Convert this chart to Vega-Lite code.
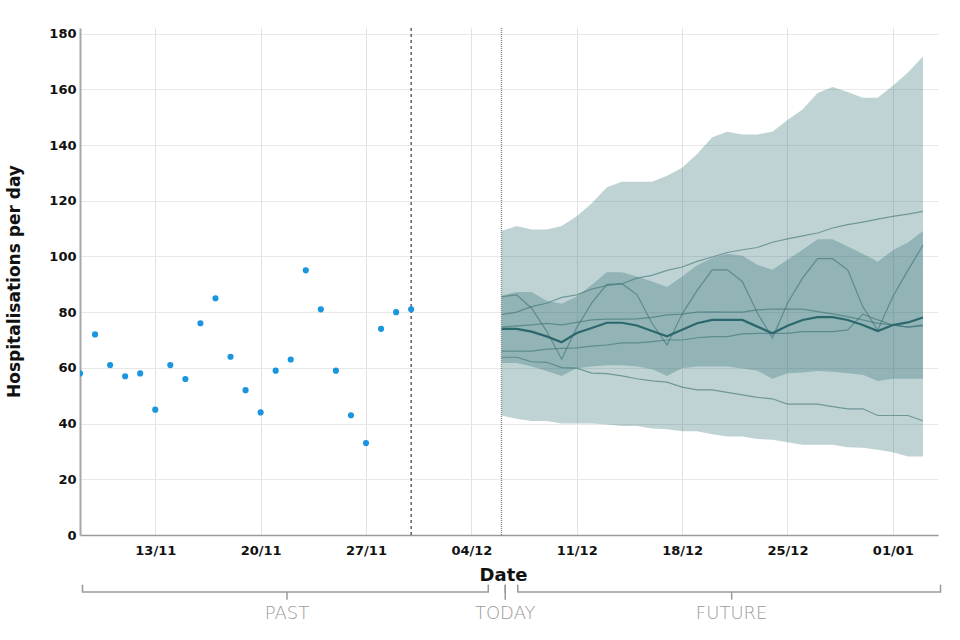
{
  "$schema": "https://vega.github.io/schema/vega-lite/v6.json",
  "autosize": {"type": "none"},
  "width": 858,
  "height": 507,
  "padding": {"left": 80, "top": 28, "right": 22, "bottom": 105},
  "background": "white",
  "config": {"font": "DejaVu Sans", "view": {"stroke": null}},
  "datasets": {
    "obs": [
      {"date": "2020-11-08T00:00:00", "admissions": 58},
      {"date": "2020-11-09T00:00:00", "admissions": 72},
      {"date": "2020-11-10T00:00:00", "admissions": 61},
      {"date": "2020-11-11T00:00:00", "admissions": 57},
      {"date": "2020-11-12T00:00:00", "admissions": 58},
      {"date": "2020-11-13T00:00:00", "admissions": 45},
      {"date": "2020-11-14T00:00:00", "admissions": 61},
      {"date": "2020-11-15T00:00:00", "admissions": 56},
      {"date": "2020-11-16T00:00:00", "admissions": 76},
      {"date": "2020-11-17T00:00:00", "admissions": 85},
      {"date": "2020-11-18T00:00:00", "admissions": 64},
      {"date": "2020-11-19T00:00:00", "admissions": 52},
      {"date": "2020-11-20T00:00:00", "admissions": 44},
      {"date": "2020-11-21T00:00:00", "admissions": 59},
      {"date": "2020-11-22T00:00:00", "admissions": 63},
      {"date": "2020-11-23T00:00:00", "admissions": 95},
      {"date": "2020-11-24T00:00:00", "admissions": 81},
      {"date": "2020-11-25T00:00:00", "admissions": 59},
      {"date": "2020-11-26T00:00:00", "admissions": 43},
      {"date": "2020-11-27T00:00:00", "admissions": 33},
      {"date": "2020-11-28T00:00:00", "admissions": 74},
      {"date": "2020-11-29T00:00:00", "admissions": 80},
      {"date": "2020-11-30T00:00:00", "admissions": 81}
    ],
    "fc": [
      {"date": "2020-12-06T00:00:00", "lo90": 42.9, "hi90": 109.1, "lo50": 61.7, "hi50": 86, "median": 74, "s1": 79.1, "s2": 85.5, "s3": 74.6, "s4": 66, "s5": 63.8},
      {"date": "2020-12-07T00:00:00", "lo90": 41.7, "hi90": 110.9, "lo50": 61.7, "hi50": 87.2, "median": 74, "s1": 80, "s2": 86.2, "s3": 75.1, "s4": 66, "s5": 63.8},
      {"date": "2020-12-08T00:00:00", "lo90": 40.9, "hi90": 109.7, "lo50": 60.5, "hi50": 87.2, "median": 73, "s1": 82, "s2": 81.4, "s3": 75.4, "s4": 66, "s5": 62.2},
      {"date": "2020-12-09T00:00:00", "lo90": 40.9, "hi90": 109.7, "lo50": 58.9, "hi50": 84.1, "median": 71.3, "s1": 83.2, "s2": 73.2, "s3": 76, "s4": 66.7, "s5": 62},
      {"date": "2020-12-10T00:00:00", "lo90": 40, "hi90": 110.9, "lo50": 57.1, "hi50": 83, "median": 69.2, "s1": 85.3, "s2": 63.1, "s3": 75.4, "s4": 67, "s5": 60.1},
      {"date": "2020-12-11T00:00:00", "lo90": 40, "hi90": 114.4, "lo50": 59.9, "hi50": 85.6, "median": 72.5, "s1": 86.2, "s2": 74.5, "s3": 76.3, "s4": 67.2, "s5": 59.9},
      {"date": "2020-12-12T00:00:00", "lo90": 40, "hi90": 119.1, "lo50": 60.5, "hi50": 89.8, "median": 74.3, "s1": 88.3, "s2": 83.3, "s3": 77.2, "s4": 67.8, "s5": 58.1},
      {"date": "2020-12-13T00:00:00", "lo90": 39.7, "hi90": 124.8, "lo50": 60.9, "hi50": 94.3, "median": 76.2, "s1": 89.5, "s2": 90, "s3": 77.5, "s4": 68.2, "s5": 57.9},
      {"date": "2020-12-14T00:00:00", "lo90": 39.1, "hi90": 126.8, "lo50": 60.9, "hi50": 94.3, "median": 76.2, "s1": 90.2, "s2": 90.2, "s3": 77.5, "s4": 69, "s5": 57.1},
      {"date": "2020-12-15T00:00:00", "lo90": 39.1, "hi90": 126.8, "lo50": 60.5, "hi50": 92.8, "median": 75.2, "s1": 92.2, "s2": 86.3, "s3": 77.6, "s4": 69, "s5": 56.1},
      {"date": "2020-12-16T00:00:00", "lo90": 38.2, "hi90": 126.8, "lo50": 59.5, "hi50": 91, "median": 73.2, "s1": 93.2, "s2": 76, "s3": 78.1, "s4": 69.4, "s5": 55.3},
      {"date": "2020-12-17T00:00:00", "lo90": 38, "hi90": 129, "lo50": 57.1, "hi50": 89, "median": 71.3, "s1": 95, "s2": 68.2, "s3": 79, "s4": 70, "s5": 54.9},
      {"date": "2020-12-18T00:00:00", "lo90": 37.2, "hi90": 131.8, "lo50": 59.9, "hi50": 92.8, "median": 73.7, "s1": 96.2, "s2": 79.3, "s3": 79.3, "s4": 70, "s5": 53.1},
      {"date": "2020-12-19T00:00:00", "lo90": 37.2, "hi90": 136.8, "lo50": 60.5, "hi50": 96.8, "median": 76, "s1": 98.2, "s2": 87.8, "s3": 80, "s4": 70.8, "s5": 52.1},
      {"date": "2020-12-20T00:00:00", "lo90": 36.2, "hi90": 142.8, "lo50": 60.5, "hi50": 99.4, "median": 77.2, "s1": 99.8, "s2": 95.2, "s3": 80.1, "s4": 71.2, "s5": 52.1},
      {"date": "2020-12-21T00:00:00", "lo90": 35.4, "hi90": 144.8, "lo50": 60.5, "hi50": 101, "median": 77.2, "s1": 101.4, "s2": 95.2, "s3": 80, "s4": 71.2, "s5": 51.2},
      {"date": "2020-12-22T00:00:00", "lo90": 35.4, "hi90": 143.8, "lo50": 59.8, "hi50": 100.2, "median": 77.2, "s1": 102.4, "s2": 91, "s3": 80, "s4": 72.2, "s5": 50.3},
      {"date": "2020-12-23T00:00:00", "lo90": 34.5, "hi90": 143.8, "lo50": 59, "hi50": 97, "median": 74.8, "s1": 103.2, "s2": 79.7, "s3": 80.8, "s4": 72.4, "s5": 49.4},
      {"date": "2020-12-24T00:00:00", "lo90": 34.2, "hi90": 144.8, "lo50": 56.1, "hi50": 95.2, "median": 72.4, "s1": 105.1, "s2": 70.7, "s3": 81.1, "s4": 72.4, "s5": 48.9},
      {"date": "2020-12-25T00:00:00", "lo90": 33.3, "hi90": 149, "lo50": 58.1, "hi50": 98.8, "median": 75.1, "s1": 106.3, "s2": 83.2, "s3": 81.1, "s4": 72.4, "s5": 47},
      {"date": "2020-12-26T00:00:00", "lo90": 32.4, "hi90": 152.7, "lo50": 58.3, "hi50": 102.4, "median": 77.2, "s1": 107.4, "s2": 92.2, "s3": 81.1, "s4": 73, "s5": 47},
      {"date": "2020-12-27T00:00:00", "lo90": 32.4, "hi90": 158.7, "lo50": 58.9, "hi50": 106.2, "median": 78.2, "s1": 108.4, "s2": 99.2, "s3": 80.2, "s4": 73, "s5": 47},
      {"date": "2020-12-28T00:00:00", "lo90": 32.4, "hi90": 160.8, "lo50": 58.6, "hi50": 106.2, "median": 78.2, "s1": 110.2, "s2": 99.2, "s3": 79.4, "s4": 73, "s5": 46.1},
      {"date": "2020-12-29T00:00:00", "lo90": 31.5, "hi90": 159, "lo50": 58.1, "hi50": 103.6, "median": 77.2, "s1": 111.4, "s2": 95.2, "s3": 78.4, "s4": 73.6, "s5": 45.3},
      {"date": "2020-12-30T00:00:00", "lo90": 31.3, "hi90": 157, "lo50": 57.5, "hi50": 101, "median": 75.4, "s1": 112.3, "s2": 82, "s3": 77.2, "s4": 79.3, "s5": 45.3},
      {"date": "2020-12-31T00:00:00", "lo90": 30.6, "hi90": 157, "lo50": 55.3, "hi50": 98.1, "median": 73.2, "s1": 113.4, "s2": 73.5, "s3": 76, "s4": 77.2, "s5": 42.9},
      {"date": "2021-01-01T00:00:00", "lo90": 29.7, "hi90": 161.3, "lo50": 56.1, "hi50": 102.2, "median": 75.4, "s1": 114.4, "s2": 85.6, "s3": 75.4, "s4": 75.4, "s5": 42.9},
      {"date": "2021-01-02T00:00:00", "lo90": 28.2, "hi90": 166, "lo50": 56.1, "hi50": 105, "median": 76.3, "s1": 115.2, "s2": 95, "s3": 74.6, "s4": 74.6, "s5": 42.9},
      {"date": "2021-01-03T00:00:00", "lo90": 28.2, "hi90": 171.8, "lo50": 56.1, "hi50": 109.1, "median": 78.1, "s1": 116.2, "s2": 104, "s3": 75.4, "s4": 75.1, "s5": 41}
    ],
    "markers": [
      {"event": "last observation", "date": "2020-11-30T00:00:00"},
      {"event": "today", "date": "2020-12-06T00:00:00"}
    ],
    "periods": [
      {"period": "PAST", "start": "2020-11-08T04:00:00", "end": "2020-12-05T03:00:00", "mid": "2020-11-21T18:00:00"},
      {"period": "TODAY", "start": "2020-12-06T06:00:00", "end": "2020-12-06T06:00:00", "mid": "2020-12-06T06:00:00"},
      {"period": "FUTURE", "start": "2020-12-07T02:00:00", "end": "2021-01-04T04:00:00", "mid": "2020-12-21T07:00:00"}
    ]
  },
  "layer": [
    {
      "data": {"name": "fc"},
      "mark": {"type": "area", "color": "#2a6c72", "opacity": 0.3},
      "encoding": {
        "x": {
          "field": "date", "type": "temporal", "title": "Date",
          "scale": {"domain": [{"year": 2020, "month": 11, "date": 8}, {"year": 2021, "month": 1, "date": 4}]},
          "axis": {
            "title": "Date",
            "values": [
              {"year": 2020, "month": 11, "date": 13}, {"year": 2020, "month": 11, "date": 20},
              {"year": 2020, "month": 11, "date": 27}, {"year": 2020, "month": 12, "date": 4},
              {"year": 2020, "month": 12, "date": 11}, {"year": 2020, "month": 12, "date": 18},
              {"year": 2020, "month": 12, "date": 25}, {"year": 2021, "month": 1, "date": 1}
            ],
            "format": "%d/%m",
            "labelFont": "DejaVu Sans", "labelFontSize": 13, "labelFontWeight": "bold", "labelColor": "#111",
            "labelPadding": 9,
            "ticks": false,
            "domainColor": "#9a9a9a", "domainWidth": 1.5,
            "grid": true, "gridColor": "#e2e2e2", "gridWidth": 1,
            "titleFont": "DejaVu Sans", "titleFontSize": 18, "titleFontWeight": "bold", "titleColor": "#111",
            "titleX": 423, "titleY": 40, "titleBaseline": "middle"
          }
        },
        "y": {
          "field": "lo90", "type": "quantitative", "title": "Hospitalisations per day",
          "scale": {"domain": [0, 182], "nice": false},
          "axis": {
            "title": "Hospitalisations per day",
            "values": [0, 20, 40, 60, 80, 100, 120, 140, 160, 180],
            "labelFont": "DejaVu Sans", "labelFontSize": 13, "labelFontWeight": "bold", "labelColor": "#111",
            "labelPadding": 4,
            "ticks": false,
            "domainColor": "#a8a8a8", "domainWidth": 2,
            "grid": true, "gridColor": "#e8e8e8", "gridWidth": 1,
            "titleFont": "DejaVu Sans", "titleFontSize": 17, "titleFontWeight": "bold", "titleColor": "#111",
            "titleX": -66, "titleY": 253, "titleAngle": -90, "titleAlign": "center", "titleBaseline": "middle"
          }
        },
        "y2": {"field": "hi90"}
      }
    },
    {
      "data": {"name": "fc"},
      "mark": {"type": "area", "color": "#2a6c72", "opacity": 0.3},
      "encoding": {
        "x": {"field": "date", "type": "temporal", "title": "Date"},
        "y": {"field": "lo50", "type": "quantitative", "title": "Hospitalisations per day"},
        "y2": {"field": "hi50"}
      }
    },
    {
      "data": {"name": "fc"},
      "transform": [{"fold": ["s1", "s2", "s3", "s4", "s5"], "as": ["sample", "value"]}],
      "mark": {"type": "line", "color": "#3b6f73", "strokeWidth": 1.2, "opacity": 0.6},
      "encoding": {
        "x": {"field": "date", "type": "temporal", "title": "Date"},
        "y": {"field": "value", "type": "quantitative", "title": "Hospitalisations per day"},
        "detail": {"field": "sample"}
      }
    },
    {
      "data": {"name": "fc"},
      "mark": {"type": "line", "color": "#2b686d", "strokeWidth": 2.2},
      "encoding": {
        "x": {"field": "date", "type": "temporal", "title": "Date"},
        "y": {"field": "median", "type": "quantitative", "title": "Hospitalisations per day"}
      }
    },
    {
      "data": {"name": "markers"},
      "mark": {"type": "rule", "strokeWidth": 1.4},
      "encoding": {
        "x": {"field": "date", "type": "temporal", "title": "Date"},
        "color": {"field": "event", "type": "nominal", "scale": {"domain": ["last observation", "today"], "range": ["#555555", "#888888"]}, "legend": null},
        "strokeDash": {"field": "event", "type": "nominal", "scale": {"domain": ["last observation", "today"], "range": [[3, 3], [1, 1]]}, "legend": null}
      }
    },
    {
      "data": {"name": "obs"},
      "mark": {"type": "circle", "color": "#1b95dd", "size": 38, "opacity": 1, "clip": true},
      "encoding": {
        "x": {"field": "date", "type": "temporal", "title": "Date"},
        "y": {"field": "admissions", "type": "quantitative", "title": "Hospitalisations per day"}
      }
    },
    {
      "data": {"name": "periods"},
      "mark": {"type": "rule", "color": "#9a9a9a", "strokeWidth": 1.5, "clip": false},
      "encoding": {
        "x": {"field": "start", "type": "temporal", "title": "Date"},
        "x2": {"field": "end"},
        "y": {"datum": -20.5, "type": "quantitative", "title": "Hospitalisations per day"}
      }
    },
    {
      "data": {"name": "periods"},
      "mark": {"type": "rule", "color": "#9a9a9a", "strokeWidth": 1.5, "strokeCap": "round", "clip": false},
      "encoding": {
        "x": {"field": "start", "type": "temporal", "title": "Date"},
        "y": {"datum": -20.5, "type": "quantitative", "title": "Hospitalisations per day"},
        "y2": {"datum": -18}
      }
    },
    {
      "data": {"name": "periods"},
      "mark": {"type": "rule", "color": "#9a9a9a", "strokeWidth": 1.5, "strokeCap": "round", "clip": false},
      "encoding": {
        "x": {"field": "end", "type": "temporal", "title": "Date"},
        "y": {"datum": -20.5, "type": "quantitative", "title": "Hospitalisations per day"},
        "y2": {"datum": -18}
      }
    },
    {
      "data": {"name": "periods"},
      "mark": {"type": "rule", "color": "#9a9a9a", "strokeWidth": 1.5, "clip": false},
      "encoding": {
        "x": {"field": "mid", "type": "temporal", "title": "Date"},
        "y": {"datum": -20.5, "type": "quantitative", "title": "Hospitalisations per day"},
        "y2": {"datum": -23.2}
      }
    },
    {
      "data": {"name": "periods"},
      "mark": {"type": "text", "color": "#9a9a9a", "fontSize": 18, "fontWeight": 200, "font": "DejaVu Sans", "baseline": "middle", "align": "center", "clip": false},
      "encoding": {
        "x": {"field": "mid", "type": "temporal", "title": "Date"},
        "y": {"datum": -28.5, "type": "quantitative", "title": "Hospitalisations per day"},
        "text": {"field": "period"}
      }
    }
  ]
}
